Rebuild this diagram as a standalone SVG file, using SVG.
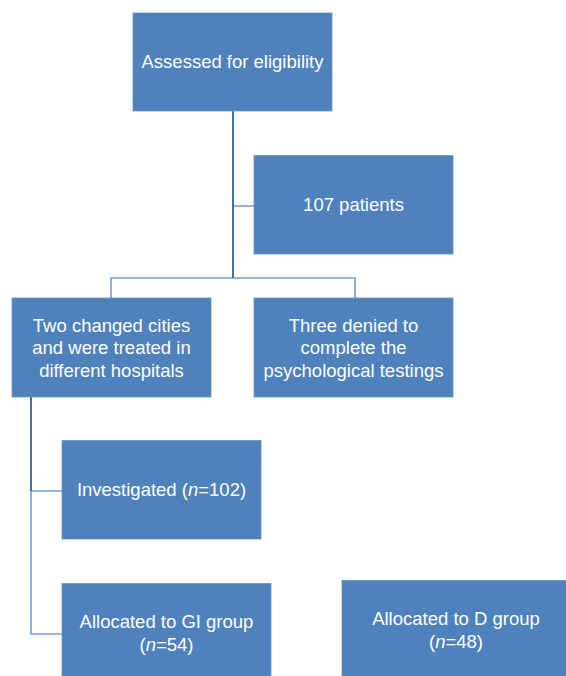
<svg xmlns="http://www.w3.org/2000/svg" width="566" height="676" viewBox="0 0 566 676">
<style>
.box{fill:#4F81BD;stroke:#6a93c6;stroke-width:0.8}
.t{font-family:"Liberation Sans",Arial,sans-serif;font-size:18.5px;fill:#ffffff;text-anchor:middle}
.main{stroke:#416fa6;stroke-width:2;fill:none}
.thin{stroke:#7b9dca;stroke-width:1.6;fill:none}
</style>
<rect width="566" height="676" fill="#ffffff"/>
<g id="connectors">
<path class="thin" d="M233 206H254"/>
<path class="thin" d="M111 298V278H355V298"/>
<path class="main" d="M233 111V278"/>
<path class="thin" d="M31 491V634H62M31 491H62"/>
<path class="main" d="M31 397V491"/>
</g>
<g id="n-assessed">
<rect class="box" x="133" y="13" width="199" height="98"/>
<text class="t" x="232.5" y="68">Assessed for eligibility</text>
</g>
<g id="n-107">
<rect class="box" x="254" y="155.5" width="199" height="98.5"/>
<text class="t" x="353.5" y="210.5">107 patients</text>
</g>
<g id="n-two">
<rect class="box" x="12" y="298" width="199" height="99"/>
<text class="t" x="111.5" y="331.5">Two changed cities</text>
<text class="t" x="111.5" y="354">and were treated in</text>
<text class="t" x="111.5" y="376.5">different hospitals</text>
</g>
<g id="n-three">
<rect class="box" x="254" y="298" width="199" height="99"/>
<text class="t" x="353.5" y="331.5">Three denied to</text>
<text class="t" x="353.5" y="354">complete the</text>
<text class="t" x="353.5" y="376.5">psychological testings</text>
</g>
<g id="n-investigated">
<rect class="box" x="62" y="440.5" width="199" height="98.5"/>
<text class="t" x="161.5" y="495.5">Investigated (<tspan font-style="italic">n</tspan>=102)</text>
</g>
<g id="n-gi">
<rect class="box" x="62" y="583.5" width="209" height="100"/>
<text class="t" x="166.5" y="627.5">Allocated to GI group</text>
<text class="t" x="166.5" y="650.5">(<tspan font-style="italic">n</tspan>=54)</text>
</g>
<g id="n-d">
<rect class="box" x="342" y="580.5" width="230" height="100"/>
<text class="t" x="456" y="625">Allocated to D group</text>
<text class="t" x="456" y="647.5">(<tspan font-style="italic">n</tspan>=48)</text>
</g>
</svg>
